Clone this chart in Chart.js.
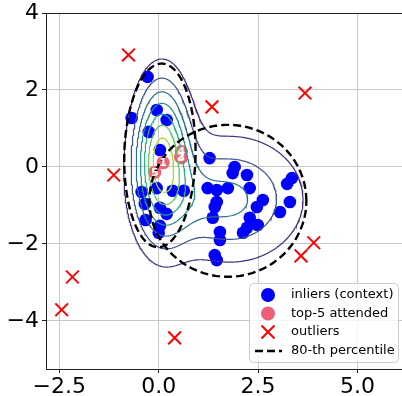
<!DOCTYPE html>
<html><head><meta charset="utf-8">
<script src="https://cdn.jsdelivr.net/npm/chart.js@4/dist/chart.umd.min.js"></script>
<style>html,body{margin:0;padding:0;background:#fff;overflow:hidden}#wrap{width:402px;height:396px;position:relative}</style>
</head><body><div id="wrap"><canvas id="c" width="402" height="396"></canvas></div>
<script>
const inlierX = [-0.28,-0.68,-0.05,0.20,-0.25,0.03,-0.43,-0.05,0.35,0.63,-0.35,0.03,0.20,-0.33,0.03,0.00,
  1.28,1.91,1.86,2.22,1.23,1.46,1.74,2.29,1.46,1.41,1.36,2.62,2.47,2.29,2.22,2.12,2.49,1.54,1.54,1.41,1.46,3.23,3.35,3.30,3.05];
const inlierY = [2.34,1.27,1.48,1.22,0.91,0.44,-0.65,-0.55,-0.62,-0.62,-0.96,-1.06,-1.22,-1.38,-1.53,-1.71,
  0.23,0.00,-0.16,-0.21,-0.55,-0.60,-0.55,-0.55,-0.91,-1.04,-1.32,-0.86,-1.04,-1.32,-1.58,-1.71,-1.51,-1.69,-1.90,-2.29,-2.42,-0.44,-0.29,-0.91,-1.17];
const top5X = [0.11, 0.55, 0.57, 0.57, -0.10];
const top5Y = [0.11, 0.26, 0.24, 0.40, -0.14];
const top5Labels = ['1','2','3','4','5'];
const outlierX = [-0.76, 1.34, 3.68, -1.13, -2.17, -2.44, 0.40, 3.58, 3.90];
const outlierY = [2.91, 1.56, 1.92, -0.21, -2.86, -3.71, -4.44, -2.31, -1.97];
const xTicks = [-2.5, 0, 2.5, 5];
const yTicks = [-4, -2, 0, 2, 4];
const legendLabels = ['inliers (context)', 'top-5 attended', 'outliers', '80-th percentile'];
const compMeanX = [0.08, 1.80, 0.90];
const compMeanY = [0.22, -0.84, -0.85];
const compSigX  = [0.46, 1.20, 0.45];
const compSigY  = [1.30, 1.07, 0.50];
const compAmp   = [7.2, 3.2, 0.5];
const contourLevels = [1, 2, 3, 4, 5, 6, 7];
const contourColors = ['#472d7b','#3b528b','#2c728e','#21918c','#28ae80','#5ec962','#a5db36'];
const ellCX = [0.03, 1.74];
const ellCY = [0.30, -0.88];
const ellSX = [0.50, 1.10];
const ellSY = [1.33, 1.10];
const ellRho = [0.05, 0.0];
const pctl = 0.8;

function density(x, y) {
  let s = 0;
  for (let k = 0; k < compAmp.length; k++) {
    const dx = (x - compMeanX[k]) / compSigX[k], dy = (y - compMeanY[k]) / compSigY[k];
    s += compAmp[k] * Math.exp(-0.5 * (dx * dx + dy * dy));
  }
  return s;
}
const GX0 = -3.0, GX1 = 6.3, GY0 = -5.4, GY1 = 4.2, GN = 280, GM = 290;
const gdx = (GX1 - GX0) / GN, gdy = (GY1 - GY0) / GM;
const grid = new Float64Array((GN + 1) * (GM + 1));
for (let j = 0; j <= GM; j++) for (let i = 0; i <= GN; i++) grid[j * (GN + 1) + i] = density(GX0 + i * gdx, GY0 + j * gdy);
function contourLines(L) {
  const segs = [];
  const G = (i, j) => grid[j * (GN + 1) + i];
  for (let j = 0; j < GM; j++) for (let i = 0; i < GN; i++) {
    const a = G(i, j), b = G(i + 1, j), c = G(i + 1, j + 1), d = G(i, j + 1);
    const x0 = GX0 + i * gdx, y0 = GY0 + j * gdy, x1 = x0 + gdx, y1 = y0 + gdy;
    const pts = [];
    if ((a >= L) !== (b >= L)) pts.push({ id: (j * (GN + 1) + i) * 2, x: x0 + (L - a) / (b - a) * gdx, y: y0 });
    if ((b >= L) !== (c >= L)) pts.push({ id: (j * (GN + 1) + i + 1) * 2 + 1, x: x1, y: y0 + (L - b) / (c - b) * gdy });
    if ((d >= L) !== (c >= L)) pts.push({ id: ((j + 1) * (GN + 1) + i) * 2, x: x0 + (L - d) / (c - d) * gdx, y: y1 });
    if ((a >= L) !== (d >= L)) pts.push({ id: (j * (GN + 1) + i) * 2 + 1, x: x0, y: y0 + (L - a) / (d - a) * gdy });
    if (pts.length === 2) segs.push([pts[0], pts[1]]);
    else if (pts.length === 4) { segs.push([pts[0], pts[1]]); segs.push([pts[2], pts[3]]); }
  }
  const map = new Map();
  segs.forEach((s, k) => { for (const p of s) { if (!map.has(p.id)) map.set(p.id, []); map.get(p.id).push(k); } });
  const used = new Uint8Array(segs.length);
  const out = [];
  for (let k = 0; k < segs.length; k++) {
    if (used[k]) continue;
    used[k] = 1;
    const line = [segs[k][0], segs[k][1]];
    for (const dir of [1, -1]) {
      let cur = dir === 1 ? line[line.length - 1] : line[0];
      while (true) {
        const cand = (map.get(cur.id) || []).find(q => !used[q]);
        if (cand === undefined) break;
        used[cand] = 1;
        const s = segs[cand];
        const other = s[0].id === cur.id ? s[1] : s[0];
        if (dir === 1) line.push(other); else line.unshift(other);
        cur = other;
      }
    }
    for (const p of line) out.push({ x: p.x, y: p.y });
    out.push({ x: line[line.length - 1].x, y: null });
  }
  return out;
}
function ellipsePts(k) {
  const r = Math.sqrt(-2 * Math.log(1 - pctl));
  const pts = [];
  for (let t = 0; t <= 240; t++) {
    const a = t / 240 * 2 * Math.PI;
    pts.push({ x: ellCX[k] + r * ellSX[k] * Math.cos(a),
               y: ellCY[k] + r * ellSY[k] * (ellRho[k] * Math.cos(a) + Math.sqrt(1 - ellRho[k] * ellRho[k]) * Math.sin(a)) });
  }
  return pts;
}

const datasets = [];
datasets.push({ label: legendLabels[0], data: inlierX.map((x, i) => ({ x, y: inlierY[i] })),
  backgroundColor: '#0000ff', borderWidth: 0, pointRadius: 6.3, order: 5 });
datasets.push({ label: legendLabels[1], data: top5X.map((x, i) => ({ x, y: top5Y[i] })),
  backgroundColor: '#ee6076', borderWidth: 0, pointRadius: 6.6, order: 4 });
datasets.push({ label: legendLabels[2], data: outlierX.map((x, i) => ({ x, y: outlierY[i] })),
  pointStyle: 'crossRot', borderColor: '#ff0000', borderWidth: 2, pointRadius: 9, order: 3 });
contourLevels.forEach((L, k) => datasets.push({ label: 'c' + L, data: contourLines(L), showLine: true,
  borderColor: contourColors[k], borderWidth: 1.2, pointRadius: 0, spanGaps: false, order: 2 }));
[0, 1].forEach(k => datasets.push({ label: legendLabels[3], data: ellipsePts(k), showLine: true,
  borderColor: '#000', borderWidth: 2.4, borderDash: [8, 4], pointRadius: 0, order: 1 }));

const AREA = { left: 46, right: 402, top: 13, bottom: 369 };
const fmtMinus = s => s.replace('-', '\u2212');
const overlay = {
  id: 'overlay',
  afterLayout(chart) {
    const ca = chart.chartArea, xs = chart.scales.x, ys = chart.scales.y;
    Object.assign(ca, AREA, { width: AREA.right - AREA.left, height: AREA.bottom - AREA.top });
    xs.left = AREA.left; xs.right = AREA.right; xs.width = AREA.right - AREA.left; xs.configure();
    ys.top = AREA.top; ys.bottom = AREA.bottom; ys.height = AREA.bottom - AREA.top; ys.configure();
  },
  afterDatasetsDraw(chart) {
    const { ctx, chartArea: ca, scales } = chart;
    ctx.save();
    ctx.strokeStyle = '#222'; ctx.lineWidth = 1;
    ctx.beginPath(); ctx.moveTo(ca.left, ca.top + 0.5); ctx.lineTo(ca.right, ca.top + 0.5); ctx.stroke();
    ctx.fillStyle = '#fff'; ctx.font = 'bold 11px "DejaVu Sans"'; ctx.textAlign = 'center'; ctx.textBaseline = 'middle';
    top5X.forEach((x, i) => ctx.fillText(top5Labels[i], scales.x.getPixelForValue(x), scales.y.getPixelForValue(top5Y[i]) + 0.5));
    const bx = 249.5, by = 283.5, bw = 149, bh = 79, r = 4;
    ctx.beginPath();
    ctx.moveTo(bx + r, by); ctx.lineTo(bx + bw - r, by); ctx.arcTo(bx + bw, by, bx + bw, by + r, r);
    ctx.lineTo(bx + bw, by + bh - r); ctx.arcTo(bx + bw, by + bh, bx + bw - r, by + bh, r);
    ctx.lineTo(bx + r, by + bh); ctx.arcTo(bx, by + bh, bx, by + bh - r, r);
    ctx.lineTo(bx, by + r); ctx.arcTo(bx, by, bx + r, by, r); ctx.closePath();
    ctx.fillStyle = 'rgba(255,255,255,0.8)'; ctx.fill();
    ctx.strokeStyle = '#cccccc'; ctx.lineWidth = 1; ctx.stroke();
    const rows = [295, 313.5, 332, 351], mx = 268;
    ctx.fillStyle = '#0000ff'; ctx.beginPath(); ctx.arc(mx, rows[0], 7, 0, 2 * Math.PI); ctx.fill();
    ctx.fillStyle = '#ee6076'; ctx.beginPath(); ctx.arc(mx, rows[1], 7, 0, 2 * Math.PI); ctx.fill();
    ctx.strokeStyle = '#ff0000'; ctx.lineWidth = 2; ctx.beginPath();
    ctx.moveTo(mx - 6.5, rows[2] - 6.5); ctx.lineTo(mx + 6.5, rows[2] + 6.5);
    ctx.moveTo(mx - 6.5, rows[2] + 6.5); ctx.lineTo(mx + 6.5, rows[2] - 6.5); ctx.stroke();
    ctx.strokeStyle = '#000'; ctx.lineWidth = 2.4; ctx.setLineDash([8, 4]); ctx.beginPath();
    ctx.moveTo(255, rows[3]); ctx.lineTo(282, rows[3]); ctx.stroke(); ctx.setLineDash([]);
    ctx.fillStyle = '#000'; ctx.font = '13px "DejaVu Sans"'; ctx.textAlign = 'left'; ctx.textBaseline = 'middle';
    legendLabels.forEach((t, i) => ctx.fillText(t, 291, rows[i]));
    ctx.restore();
  }
};

new Chart(document.getElementById('c'), {
  type: 'scatter',
  data: { datasets },
  options: {
    responsive: false, animation: false, events: [],
    layout: { padding: { top: 13, right: 0, left: 0, bottom: 0 } },
    plugins: { legend: { display: false }, tooltip: { enabled: false } },
    scales: {
      x: {
        type: 'linear', min: -2.835, max: 6.12,
        afterBuildTicks: s => { s.ticks = xTicks.map(v => ({ value: v })); },
        afterFit: s => { s.height = 27; },
        ticks: { callback: v => fmtMinus(Number(v).toFixed(1)), font: { family: 'DejaVu Sans', size: 22, lineHeight: 1 }, color: '#000', padding: 3, maxRotation: 0, autoSkip: false },
        grid: { color: '#c8c8c8', lineWidth: 1, tickLength: 4, tickColor: '#222' },
        border: { color: '#222', width: 1 }
      },
      y: {
        type: 'linear', min: -5.25, max: 4,
        afterBuildTicks: s => { s.ticks = yTicks.map(v => ({ value: v })); },
        afterFit: s => { s.width = 46; },
        ticks: { callback: v => fmtMinus(String(v)), font: { family: 'DejaVu Sans', size: 22, lineHeight: 1 }, color: '#000', padding: 3, autoSkip: false },
        grid: { color: '#c8c8c8', lineWidth: 1, tickLength: 4, tickColor: '#222' },
        border: { color: '#222', width: 1 }
      }
    }
  },
  plugins: [overlay]
});
</script></body></html>
